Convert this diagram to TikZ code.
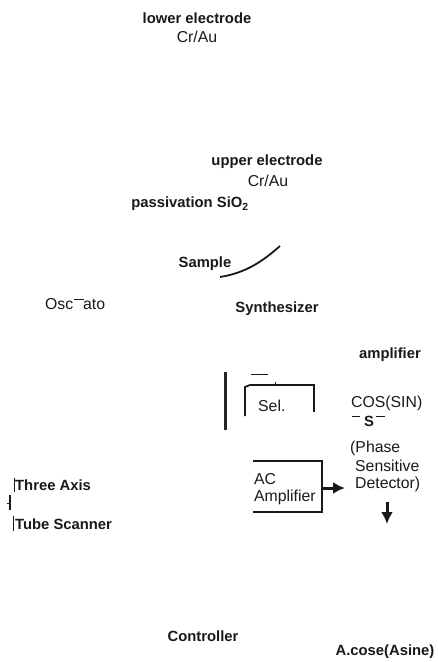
\documentclass[tikz,border=0pt]{standalone}
\usepackage{fontspec}
\setmainfont{Liberation Sans}
\usetikzlibrary{arrows.meta}
\tikzset{
  lab/.style={inner sep=0pt,font=\bfseries\fontsize{14.8}{16}\selectfont,text=black!90},
  labr/.style={inner sep=0pt,font=\fontsize{15.8}{17}\selectfont,text=black!90},
  frame/.style={draw=black!90,line width=1.8pt},
  thick line/.style={draw=black!85,line width=3pt},
  arrowline/.style={draw=black!90,line width=3pt,-{Latex[length=12pt,width=12pt]}}
}
\begin{document}
\begin{tikzpicture}[x=1pt,y=-1pt]
\useasboundingbox (0,0) rectangle (438,662);
\node[lab] (lower) at (197,18) {lower electrode};
\node[labr] (lowerm) at (197,37) {Cr/Au};
\node[lab] (upper) at (267,162) {upper electrode};
\node[labr] (upperm) at (268,181) {Cr/Au};
\node[lab] (pass) at (190,204) {passivation SiO\textsubscript{2}};
\node[lab] (sample) at (205,264) {Sample};
\coordinate (cs) at (220,277);
\coordinate (ce) at (280,246);
\draw[black!90,line width=1.8pt] (cs) .. controls (245,273) and (262,262) .. (ce);
\node[labr,anchor=west] (osc) at (45,304) {Osc};
\node[labr,anchor=west] (ato) at (83,304) {ato};
\coordinate (od1) at (74,299);
\coordinate (od2) at (84,299);
\draw[black!90,line width=1pt] (od1) -- (od2);
\node[lab] (synth) at (277,309) {Synthesizer};
\node[lab] (amp) at (390,355) {amplifier};
\coordinate (v1) at (225,372);
\coordinate (v2) at (225,430);
\draw[thick line] (v1) -- (v2);
\coordinate (d1) at (251,374);
\coordinate (d2) at (268,374);
\draw[black!90,line width=1pt] (d1) -- (d2);
\coordinate (r1) at (250,385);
\coordinate (r2) at (314,385);
\coordinate (r3) at (314,412);
\coordinate (r4) at (245,387);
\coordinate (r5) at (245,416);
\coordinate (t1) at (275,382);
\coordinate (t2) at (275,385);
\draw[frame] (r1) -- (r2) -- (r3);
\draw[frame] (r1) -- (r4) -- (r5);
\draw[black!90,line width=1pt] (t1) -- (t2);
\node[labr,anchor=west] (sel) at (258,406) {Sel.};
\node[labr,anchor=west] (cos) at (351,403) {COS(SIN)};
\node[lab] (pss) at (369,421) {S};
\coordinate (p1) at (352,416);
\coordinate (p2) at (360,416);
\coordinate (p3) at (376,416);
\coordinate (p4) at (385,416);
\draw[black!90,line width=1pt] (p1) -- (p2);
\draw[black!90,line width=1pt] (p3) -- (p4);
\node[labr,anchor=west] (ph1) at (350,448) {(Phase};
\node[labr,anchor=west] (ph2) at (355,466) {Sensitive};
\node[labr,anchor=west] (ph3) at (355,484) {Detector)};
\coordinate (a1) at (253,461);
\coordinate (a2) at (322,461);
\coordinate (a3) at (322,512);
\coordinate (a4) at (253,512);
\draw[frame] (a1) -- (a2) -- (a3) -- (a4);
\node[labr,anchor=west] (ac1) at (254,479) {AC};
\node[labr,anchor=west] (ac2) at (254,497) {Amplifier};
\coordinate (arrs) at (323,488);
\coordinate (arre) at (345,488);
\draw[arrowline] (arrs) -- (arre);
\coordinate (ds) at (387,502);
\coordinate (de) at (387,524);
\draw[arrowline] (ds) -- (de);
\node[lab,anchor=west] (three) at (15,485) {Three Axis};
\node[lab,anchor=west] (tube) at (15,524) {Tube Scanner};
\coordinate (b1) at (14,478);
\coordinate (b2) at (14,492);
\coordinate (b3) at (13,516);
\coordinate (b4) at (13,531);
\coordinate (h1) at (10,495);
\coordinate (h2) at (10,510);
\coordinate (h3) at (7,503);
\coordinate (h4) at (10,503);
\draw[black!90,line width=1pt] (b1) -- (b2);
\draw[black!90,line width=1pt] (b3) -- (b4);
\draw[black!90,line width=1.6pt] (h1) -- (h2);
\draw[black!90,line width=1pt] (h3) -- (h4);
\node[lab] (ctrl) at (203,636) {Controller};
\node[lab] (acos) at (385,652) {A.cose(Asine)};
\end{tikzpicture}
\end{document}
